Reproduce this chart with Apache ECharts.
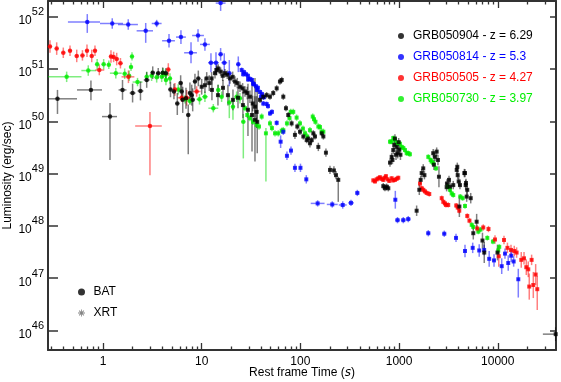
<!DOCTYPE html>
<html>
<head>
<meta charset="utf-8">
<script src="https://cdn.jsdelivr.net/npm/echarts@6/dist/echarts.min.js"></script>
<style>
  html, body { margin: 0; padding: 0; background: #fff; }
  #main { width: 561px; height: 382px; }
</style>
</head>
<body>
<div id="main"></div>
<script>
// values, stored as log10(rest frame time / s) and log10(L / erg s^-1)
// BAT rows: [logT, logL, dtLeft, dtRight, dLdown, dLup]   (errors in dex)
// XRT rows: [logT, logL, dLdown, dLup (= dLdown if missing), dt (small if missing)]

const grbNames = ['GRB050904 - z = 6.29', 'GRB050814 - z = 5.3', 'GRB050505 - z = 4.27', 'GRB050730 - z = 3.97'];
const grbColors = ['#000000', '#0000ff', '#ff0000', '#00ee00'];
const barColors = ['rgba(0,0,0,0.5)', 'rgba(0,0,255,0.5)', 'rgba(255,0,0,0.5)', 'rgba(0,220,0,0.5)'];

const xTickLabels = [0, 1, 2, 3, 4];          // 1 .. 10000 s
const yTickLabels = [46, 47, 48, 49, 50, 51, 52];
const xMin = -0.557, xMax = 4.59;
const yMin = 45.627, yMax = 52.30;

const bat904 = [
  [-0.461, 50.43, 0.096, 0.198, 0.29, 0.17], [-0.122, 50.60, 0.141, 0.112, 0.20, 0.18],
  [0.071, 50.09, 0.081, 0.071, 0.83, 0.26], [0.198, 50.60, 0.04, 0.04, 0.19, 0.19],
  [0.300, 50.54, 0.03, 0.03, 0.18, 0.18], [0.380, 50.58, 0.03, 0.03, 0.18, 0.18],
  [0.443, 50.79, 0.03, 0.03, 0.15, 0.15], [0.504, 50.93, 0.02, 0.02, 0.12, 0.12],
  [0.560, 50.92, 0.02, 0.02, 0.10, 0.10], [0.605, 50.93, 0.02, 0.02, 0.10, 0.10],
  [0.638, 50.92, 0.02, 0.02, 0.10, 0.10], [0.684, 50.61, 0.02, 0.02, 0.15, 0.15],
  [0.719, 50.57, 0.02, 0.02, 0.15, 0.15], [0.753, 50.34, 0.02, 0.02, 0.22, 0.20],
  [0.787, 50.73, 0.02, 0.02, 0.15, 0.15], [0.797, 50.57, 0.02, 0.02, 0.18, 0.18],
  [0.808, 50.41, 0.02, 0.02, 0.25, 0.25], [0.841, 50.44, 0.02, 0.02, 0.20, 0.20],
  [0.864, 50.12, 0.02, 0.02, 0.75, 0.20], [0.881, 50.54, 0.02, 0.02, 0.20, 0.20],
  [0.899, 50.50, 0.02, 0.02, 0.20, 0.20], [0.909, 50.41, 0.02, 0.02, 0.22, 0.22],
  [0.932, 50.76, 0.02, 0.02, 0.15, 0.15], [0.966, 50.82, 0.02, 0.02, 0.15, 0.15]
];
const xrt904 = [
  [1.000, 50.66, 0.15], [1.033, 50.69, 0.15], [1.051, 50.82, 0.12], [1.077, 50.73, 0.15],
  [1.101, 50.82, 0.12], [1.104, 50.60, 0.2], [1.135, 50.92, 0.1], [1.152, 50.98, 0.1],
  [1.165, 50.50, 0.2], [1.168, 51.01, 0.08], [1.192, 50.95, 0.08], [1.213, 50.87, 0.1],
  [1.216, 50.64, 0.15], [1.236, 50.92, 0.08], [1.259, 50.89, 0.08], [1.266, 50.50, 0.2],
  [1.287, 50.82, 0.1], [1.314, 50.85, 0.1], [1.317, 50.41, 0.2], [1.337, 50.76, 0.1],
  [1.361, 50.73, 0.1], [1.368, 50.45, 0.2], [1.388, 50.66, 0.1], [1.415, 50.63, 0.1],
  [1.418, 50.31, 0.25], [1.439, 50.57, 0.1], [1.462, 50.54, 0.12], [1.469, 50.22, 0.5],
  [1.489, 50.47, 0.12], [1.510, 50.12, 0.7], [1.517, 50.34, 0.15], [1.540, 50.28, 0.2],
  [1.540, 50.03, 0.8], [1.557, 50.18, 0.3], [1.563, 49.99, 0.6],
  [1.591, 50.41, 0.06], [1.624, 50.47, 0.06], [1.658, 50.50, 0.06], [1.692, 50.47, 0.06],
  [1.725, 50.54, 0.06], [1.760, 50.63, 0.06], [1.793, 50.76, 0.06], [1.811, 50.79, 0.06],
  [1.827, 50.47, 0.06], [1.854, 50.25, 0.06], [1.877, 50.12, 0.06], [1.911, 49.96, 0.06],
  [1.945, 49.74, 0.08], [1.969, 49.90, 0.06], [1.996, 49.80, 0.06], [2.030, 49.71, 0.06],
  [2.064, 49.64, 0.06], [2.080, 49.67, 0.06], [2.097, 49.58, 0.08], [2.115, 49.64, 0.06],
  [2.131, 49.77, 0.06], [2.148, 49.71, 0.06], [2.182, 49.51, 0.08], [2.216, 49.77, 0.06],
  [2.233, 49.71, 0.06], [2.259, 49.40, 0.08], [2.300, 49.07, 0.08], [2.340, 49.06, 0.08],
  [2.361, 48.97, 0.08], [2.384, 48.88, 0.42, 0.06],
  [2.840, 48.76, 0.06], [2.857, 48.72, 0.06], [2.874, 48.75, 0.06], [2.891, 48.72, 0.06],
  [2.908, 49.21, 0.08], [2.925, 49.32, 0.08], [2.933, 49.26, 0.08], [2.941, 49.45, 0.08],
  [2.951, 49.55, 0.08], [2.958, 49.67, 0.08], [2.969, 49.36, 0.1], [2.976, 49.51, 0.08],
  [2.986, 49.39, 0.1], [2.996, 49.60, 0.08], [3.002, 49.46, 0.08], [3.014, 49.36, 0.1],
  [3.178, 48.29, 0.1], [3.205, 48.69, 0.1], [3.219, 48.88, 0.08], [3.229, 49.01, 0.08],
  [3.245, 49.10, 0.08], [3.257, 48.97, 0.08], [3.346, 49.39, 0.08], [3.353, 49.17, 0.1],
  [3.364, 49.32, 0.08], [3.381, 49.42, 0.08], [3.394, 49.26, 0.1], [3.404, 48.94, 0.2],
  [3.482, 48.74, 0.08], [3.485, 48.81, 0.08], [3.506, 48.88, 0.08], [3.516, 48.75, 0.1],
  [3.549, 48.78, 0.08], [3.584, 49.07, 0.08], [3.590, 49.13, 0.08], [3.594, 48.97, 0.08],
  [3.604, 48.85, 0.08], [3.611, 48.37, 0.2], [3.617, 48.78, 0.08], [3.661, 49.01, 0.08],
  [3.668, 49.01, 0.08], [3.675, 48.78, 0.1], [3.678, 48.82, 0.08], [3.685, 48.56, 0.1],
  [3.691, 48.69, 0.1], [3.726, 48.53, 0.1],
  [3.752, 47.86, 0.12], [3.786, 48.08, 0.15], [3.845, 47.72, 0.15], [3.863, 47.49, 0.2],
  [3.997, 47.49, 0.15], [4.587, 45.93, 0.13, 0.13, 0.13]
];

const bat814 = [
  [-0.159, 51.90, 0.196, 0.129, 0.21, 0.15], [0.094, 51.87, 0.124, 0.109, 0.10, 0.10],
  [0.256, 51.85, 0.104, 0.098, 0.10, 0.10], [0.433, 51.73, 0.092, 0.074, 0.23, 0.15],
  [0.544, 51.87, 0.05, 0.05, 0.07, 0.07], [0.669, 51.54, 0.07, 0.06, 0.13, 0.13],
  [0.790, 51.61, 0.05, 0.05, 0.13, 0.13], [0.892, 51.31, 0.07, 0.06, 0.20, 0.20],
  [0.963, 51.64, 0.06, 0.06, 0.12, 0.12], [1.033, 51.47, 0.05, 0.05, 0.12, 0.12],
  [1.094, 51.12, 0.03, 0.03, 0.18, 0.18], [1.145, 51.12, 0.03, 0.03, 0.20, 0.20],
  [1.192, 52.26, 0.05, 0.05, 0.15, 0.20], [1.192, 51.28, 0.02, 0.02, 0.12, 0.12],
  [1.229, 51.12, 0.03, 0.03, 0.18, 0.18], [1.280, 50.92, 0.02, 0.02, 0.25, 0.25],
  [1.371, 51.09, 0.02, 0.02, 0.15, 0.15]
];
const xrt814 = [
  [1.405, 50.98, 0.05], [1.420, 50.90, 0.05], [1.429, 50.94, 0.05], [1.449, 50.90, 0.05],
  [1.469, 50.87, 0.05], [1.470, 50.80, 0.05], [1.489, 50.81, 0.05], [1.510, 50.79, 0.05],
  [1.520, 50.72, 0.05], [1.530, 50.71, 0.05], [1.550, 50.67, 0.05], [1.560, 50.60, 0.05],
  [1.570, 50.64, 0.05], [1.591, 50.56, 0.05], [1.600, 50.47, 0.05], [1.611, 50.52, 0.05],
  [1.624, 50.34, 0.05], [1.631, 50.46, 0.05], [1.658, 50.33, 0.05], [1.672, 50.29, 0.05],
  [1.692, 50.15, 0.05], [1.712, 50.18, 0.05], [1.760, 49.97, 0.05], [1.800, 49.61, 0.12],
  [1.827, 49.80, 0.06], [1.864, 49.34, 0.08], [1.905, 49.44, 0.08], [1.945, 49.11, 0.08],
  [2.001, 49.11, 0.08], [2.060, 48.89, 0.08],
  [2.175, 48.43, 0.06, 0.06, 0.07], [2.323, 48.41, 0.06, 0.06, 0.055], [2.429, 48.40, 0.07, 0.07, 0.04],
  [2.513, 48.44, 0.06, 0.06, 0.03], [2.577, 48.63, 0.06, 0.06, 0.02],
  [2.962, 48.50, 0.17], [2.984, 48.11, 0.06, 0.06, 0.025], [3.043, 48.11, 0.06, 0.06, 0.025],
  [3.093, 48.13, 0.06, 0.06, 0.025], [3.296, 47.86, 0.06, 0.06, 0.02], [3.458, 47.85, 0.06, 0.06, 0.02],
  [3.577, 47.77, 0.08], [3.668, 47.52, 0.12], [3.746, 47.58, 0.1], [3.812, 47.53, 0.12],
  [3.862, 47.54, 0.1], [3.913, 47.37, 0.15], [3.962, 47.34, 0.12], [4.040, 47.23, 0.15],
  [4.073, 47.47, 0.1], [4.106, 47.29, 0.15], [4.136, 47.43, 0.12], [4.161, 47.32, 0.1],
  [4.208, 46.98, 0.35, 0.2]
];

const bat505 = [
  [-0.537, 51.43, 0.02, 0.02, 0.12, 0.12], [-0.469, 51.39, 0.02, 0.02, 0.12, 0.12],
  [-0.402, 51.31, 0.02, 0.02, 0.10, 0.10], [-0.334, 51.35, 0.02, 0.02, 0.10, 0.10],
  [-0.266, 51.25, 0.02, 0.02, 0.12, 0.12], [-0.208, 51.26, 0.02, 0.02, 0.10, 0.10],
  [-0.162, 51.35, 0.02, 0.02, 0.12, 0.12], [-0.114, 51.25, 0.02, 0.02, 0.12, 0.12],
  [-0.081, 51.35, 0.02, 0.02, 0.10, 0.10], [-0.037, 50.98, 0.04, 0.05, 0.10, 0.10],
  [0.081, 51.24, 0.02, 0.02, 0.12, 0.12], [0.108, 51.23, 0.02, 0.02, 0.10, 0.10],
  [0.139, 51.19, 0.02, 0.02, 0.12, 0.12], [0.177, 51.11, 0.02, 0.02, 0.10, 0.10],
  [0.258, 50.85, 0.07, 0.06, 0.12, 0.12], [0.476, 49.91, 0.15, 0.12, 0.94, 0.27],
  [0.662, 50.99, 0.02, 0.02, 0.12, 0.12], [0.729, 50.61, 0.02, 0.02, 0.12, 0.12],
  [0.797, 50.45, 0.04, 0.04, 0.08, 0.08], [0.848, 50.45, 0.04, 0.04, 0.15, 0.15],
  [0.949, 50.57, 0.04, 0.04, 0.10, 0.10]
];
const xrt505 = [
  [2.739, 48.87, 0.04], [2.756, 48.85, 0.04], [2.773, 48.89, 0.04], [2.790, 48.91, 0.04],
  [2.806, 48.93, 0.04], [2.823, 48.90, 0.04], [2.840, 48.88, 0.04], [2.853, 48.92, 0.04],
  [2.867, 48.95, 0.04], [2.884, 48.89, 0.04], [2.901, 48.86, 0.04], [2.925, 48.91, 0.04],
  [2.940, 48.87, 0.04], [2.958, 48.88, 0.04], [2.975, 48.90, 0.04], [2.992, 48.92, 0.04],
  [3.212, 48.81, 0.05], [3.229, 48.72, 0.05], [3.245, 48.69, 0.05], [3.262, 48.66, 0.05],
  [3.280, 48.63, 0.05], [3.306, 48.61, 0.05],
  [3.432, 48.53, 0.05], [3.448, 48.46, 0.05], [3.465, 48.43, 0.05], [3.475, 48.40, 0.05],
  [3.498, 48.40, 0.05], [3.579, 48.39, 0.05], [3.594, 48.35, 0.05], [3.610, 48.29, 0.05],
  [3.691, 48.19, 0.05], [3.713, 48.10, 0.05], [3.792, 47.95, 0.06], [3.853, 47.97, 0.06],
  [3.906, 47.94, 0.06], [3.972, 47.74, 0.08], [4.010, 47.42, 0.2], [4.063, 47.73, 0.08],
  [4.098, 47.58, 0.1], [4.134, 47.54, 0.1], [4.167, 47.52, 0.1], [4.191, 47.49, 0.1],
  [4.238, 47.35, 0.15], [4.266, 47.38, 0.12], [4.289, 47.21, 0.15], [4.309, 47.17, 0.15],
  [4.343, 47.35, 0.1], [4.319, 46.84, 0.25], [4.360, 46.87, 0.25], [4.384, 47.07, 0.2],
  [4.400, 46.79, 0.4, 0.25]
];

const bat730 = [
  [-0.368, 50.85, 0.19, 0.15, 0.10, 0.10], [-0.149, 50.97, 0.07, 0.08, 0.10, 0.10],
  [-0.059, 51.09, 0.02, 0.02, 0.10, 0.10], [0.007, 51.09, 0.02, 0.02, 0.10, 0.10],
  [0.059, 51.08, 0.02, 0.02, 0.08, 0.08], [0.130, 50.92, 0.06, 0.06, 0.10, 0.10],
  [0.220, 50.91, 0.02, 0.02, 0.10, 0.10], [0.265, 50.87, 0.02, 0.02, 0.10, 0.10],
  [0.284, 51.04, 0.02, 0.02, 0.08, 0.08], [0.294, 51.24, 0.02, 0.02, 0.08, 0.08],
  [0.350, 50.75, 0.05, 0.05, 0.08, 0.08], [0.443, 50.85, 0.02, 0.02, 0.10, 0.10],
  [0.493, 50.87, 0.02, 0.02, 0.10, 0.10], [0.544, 50.84, 0.02, 0.02, 0.10, 0.10],
  [0.595, 50.85, 0.02, 0.02, 0.10, 0.10], [0.608, 50.92, 0.02, 0.02, 0.10, 0.10],
  [0.633, 50.89, 0.02, 0.02, 0.10, 0.10], [0.638, 50.79, 0.02, 0.02, 0.10, 0.10],
  [0.679, 50.82, 0.02, 0.02, 0.10, 0.10], [0.763, 50.61, 0.02, 0.02, 0.10, 0.10],
  [0.831, 50.42, 0.05, 0.05, 0.08, 0.08], [0.881, 50.39, 0.04, 0.04, 0.08, 0.08],
  [0.978, 50.42, 0.03, 0.03, 0.10, 0.10], [1.033, 50.47, 0.03, 0.03, 0.10, 0.10],
  [1.118, 50.25, 0.05, 0.05, 0.08, 0.08], [1.168, 50.60, 0.02, 0.02, 0.10, 0.10],
  [1.202, 50.47, 0.02, 0.02, 0.10, 0.10], [1.280, 50.36, 0.02, 0.02, 0.30, 0.15],
  [1.317, 50.28, 0.02, 0.02, 0.25, 0.15], [1.354, 50.47, 0.02, 0.02, 0.10, 0.10],
  [1.388, 50.44, 0.02, 0.02, 0.10, 0.10], [1.422, 49.99, 0.02, 0.02, 0.70, 0.15]
];
const xrt730 = [
  [1.439, 50.25, 0.06], [1.462, 50.12, 0.06], [1.489, 50.06, 0.06], [1.520, 49.99, 0.06],
  [1.557, 49.93, 0.06], [1.581, 49.90, 0.06], [1.608, 50.09, 0.06], [1.651, 49.77, 0.92, 0.1],
  [1.692, 49.96, 0.06], [1.712, 49.87, 0.06], [1.743, 49.77, 0.06], [1.776, 49.77, 0.06],
  [1.811, 49.82, 0.06], [1.827, 49.83, 0.06], [1.864, 49.96, 0.06], [1.890, 50.06, 0.06],
  [1.902, 50.18, 0.06], [1.928, 50.18, 0.06], [1.962, 50.07, 0.06], [1.996, 49.96, 0.06],
  [2.026, 49.86, 0.06], [2.047, 49.77, 0.06], [2.070, 49.71, 0.06], [2.097, 49.83, 0.06],
  [2.125, 50.09, 0.06], [2.138, 50.04, 0.06], [2.153, 49.99, 0.06], [2.182, 49.90, 0.06],
  [2.199, 49.89, 0.06], [2.216, 49.80, 0.06], [2.233, 49.80, 0.06],
  [2.908, 49.61, 0.05], [2.925, 49.61, 0.05], [2.941, 49.68, 0.05], [2.958, 49.65, 0.05],
  [2.976, 49.58, 0.05], [2.992, 49.59, 0.05], [3.009, 49.57, 0.05], [3.026, 49.51, 0.05],
  [3.043, 49.49, 0.05], [3.060, 49.45, 0.05], [3.077, 49.39, 0.05], [3.093, 49.39, 0.05],
  [3.110, 49.37, 0.05],
  [3.296, 49.32, 0.05], [3.320, 49.26, 0.05], [3.330, 49.23, 0.05], [3.347, 49.20, 0.05],
  [3.374, 49.10, 0.05],
  [3.495, 48.75, 0.05], [3.516, 48.69, 0.05], [3.533, 48.62, 0.05], [3.549, 48.59, 0.05],
  [3.620, 48.56, 0.05], [3.644, 48.53, 0.05], [3.668, 48.38, 0.05],
  [3.736, 48.02, 0.05], [3.752, 47.98, 0.05], [3.803, 47.89, 0.05], [3.825, 47.93, 0.05],
  [3.894, 47.77, 0.05], [3.951, 47.70, 0.05], [4.005, 47.53, 0.05], [4.015, 47.60, 0.05]
];

const batSets = [bat904, bat814, bat505, bat730];
const xrtSets = [xrt904, xrt814, xrt505, xrt730];

// minor ticks at 2..9 x 10^n on the time axis
const xMinorTicks = [];
for (let d = -1; d <= 4; d++) {
  for (let k = 2; k <= 9; k++) {
    const v = d + Math.log10(k);
    if (v > xMin && v < xMax) xMinorTicks.push(v);
  }
}

const font = 'Liberation Sans, Arial, Helvetica, sans-serif';
const frame = { color: '#333', width: 2 };

function errorRows(bat, xrt) {
  const rows = bat.map(r => r.slice());
  xrt.forEach(r => {
    const dyd = r[2];
    const dyu = r[3] != null ? r[3] : dyd;
    const dt = r[4] != null ? r[4] : 0.012;
    rows.push([r[0], r[1], dt, dt, dyd, dyu]);
  });
  return rows;
}

function pointRows(bat, xrt) {
  const pts = bat.map(r => ({ value: [r[0], r[1]], symbol: 'circle', symbolSize: 4.5 }));
  xrt.forEach(r => pts.push({ value: [r[0], r[1]], symbol: 'rect', symbolSize: 4 }));
  return pts;
}

function errorRenderer(color) {
  return function (params, api) {
    const x = api.value(0), y = api.value(1);
    const a = api.coord([x - api.value(2), y]);
    const b = api.coord([x + api.value(3), y]);
    const c = api.coord([x, y - api.value(4)]);
    const d = api.coord([x, y + api.value(5)]);
    const style = { stroke: color, lineWidth: 1.5 };
    return {
      type: 'group',
      children: [
        { type: 'line', shape: { x1: a[0], y1: a[1], x2: b[0], y2: b[1] }, style: style },
        { type: 'line', shape: { x1: c[0], y1: c[1], x2: d[0], y2: d[1] }, style: style }
      ]
    };
  };
}

const drawOrder = [3, 2, 1, 0];   // green, red, blue, black on top
const series = [];
drawOrder.forEach(i => {
  series.push({
    type: 'custom',
    renderItem: errorRenderer(barColors[i]),
    data: errorRows(batSets[i], xrtSets[i]),
    encode: { x: 0, y: 1 },
    clip: true,
    silent: true
  });
});
drawOrder.forEach(i => {
  series.push({
    name: grbNames[i],
    type: 'scatter',
    data: pointRows(batSets[i], xrtSets[i]),
    itemStyle: { color: grbColors[i] },
    clip: true
  });
});
series.push({ name: 'BAT', type: 'scatter', data: [], itemStyle: { color: '#000' } });
series.push({ name: 'XRT', type: 'scatter', data: [], itemStyle: { color: '#666' } });

const xBase = {
  type: 'value', min: xMin, max: xMax,
  splitLine: { show: false },
  axisLine: { show: true, onZero: false, lineStyle: frame }
};
const yBase = {
  type: 'value', min: yMin, max: yMax,
  splitLine: { show: false },
  axisLine: { show: true, onZero: false, lineStyle: frame }
};

const asterisk = 'path://M4.4,0H5.6V10H4.4Z M0,4.4H10V5.6H0Z M1.2,2.1L2.1,1.2L8.8,7.9L7.9,8.8Z M7.9,1.2L8.8,2.1L2.1,8.8L1.2,7.9Z';

const option = {
  animation: false,
  backgroundColor: '#fff',
  textStyle: { fontFamily: font },
  grid: { left: 48, right: 5, top: 1, bottom: 32, containLabel: false, outerBoundsMode: 'none' },
  xAxis: [
    Object.assign({}, xBase, {
      position: 'bottom',
      axisTick: { inside: true, length: 7, customValues: xTickLabels, lineStyle: { color: '#333', width: 1.3 } },
      axisLabel: {
        customValues: xTickLabels, margin: 6, fontSize: 12, color: '#000', fontFamily: font,
        formatter: v => String(Math.round(Math.pow(10, v)))
      },
      name: 'Rest frame Time ({i|s})',
      nameLocation: 'middle', nameGap: 17, nameMoveOverlap: false,
      nameTextStyle: {
        fontSize: 12, color: '#000', fontFamily: font,
        rich: { i: { fontStyle: 'italic', fontSize: 12, color: '#000', fontFamily: 'DejaVu Sans, sans-serif' } }
      }
    }),
    Object.assign({}, xBase, {
      position: 'bottom', axisLine: { show: false },
      axisTick: { inside: true, length: 3.5, customValues: xMinorTicks, lineStyle: { color: '#333', width: 1.3 } },
      axisLabel: { show: false }
    }),
    Object.assign({}, xBase, {
      position: 'top',
      axisTick: { inside: true, length: 7, customValues: xTickLabels, lineStyle: { color: '#333', width: 1.3 } },
      axisLabel: { show: false }
    }),
    Object.assign({}, xBase, {
      position: 'top', axisLine: { show: false },
      axisTick: { inside: true, length: 3.5, customValues: xMinorTicks, lineStyle: { color: '#333', width: 1.3 } },
      axisLabel: { show: false }
    })
  ],
  yAxis: [
    Object.assign({}, yBase, {
      position: 'left',
      axisTick: { inside: true, length: 10, customValues: yTickLabels, lineStyle: { color: '#333', width: 1.5 } },
      axisLabel: {
        customValues: yTickLabels, margin: 4,
        formatter: v => '{b|10}{s|' + v + '}',
        rich: {
          b: { fontSize: 12, lineHeight: 20, verticalAlign: 'bottom', color: '#000', fontFamily: font },
          s: { fontSize: 11, verticalAlign: 'top', color: '#000', fontFamily: font }
        }
      },
      name: 'Luminosity (erg/sec)',
      nameLocation: 'middle', nameGap: 34, nameMoveOverlap: false,
      nameTextStyle: { fontSize: 12, color: '#000', fontFamily: font }
    }),
    Object.assign({}, yBase, {
      position: 'right',
      axisTick: { inside: true, length: 6, customValues: yTickLabels, lineStyle: { color: '#333', width: 1.5 } },
      axisLabel: { show: false }
    })
  ],
  legend: [
    {
      orient: 'vertical', left: 393, top: 24,
      itemWidth: 14, itemHeight: 6, itemGap: 7,
      icon: 'circle', selectedMode: false,
      textStyle: { fontSize: 12, lineHeight: 14, fontFamily: font },
      data: grbNames.map((n, i) => ({ name: n, textStyle: { color: grbColors[i] } }))
    },
    {
      orient: 'vertical', left: 73, top: 280,
      itemWidth: 14, itemHeight: 7, itemGap: 7, selectedMode: false,
      textStyle: { fontSize: 12, lineHeight: 14, color: '#000', fontFamily: font },
      data: [
        { name: 'BAT', icon: 'circle' },
        { name: 'XRT', icon: asterisk }
      ]
    }
  ],
  series: series
};

const chart = echarts.init(document.getElementById('main'), null, { renderer: 'canvas' });
chart.setOption(option);
</script>
</body>
</html>
